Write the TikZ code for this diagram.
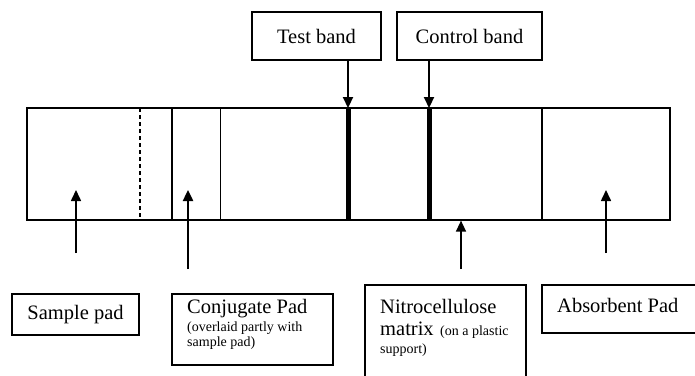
\documentclass[tikz,border=0pt]{standalone}
\usepackage{fontspec}
\setmainfont{Liberation Serif}
\usetikzlibrary{arrows.meta}
\begin{document}
\begin{tikzpicture}[x=1pt,y=-1pt,
  frame/.style={draw, line width=1.2pt, inner sep=0pt, font=\fontsize{20.5}{22}\selectfont},
  big/.style={font=\fontsize{20.5}{22}\selectfont, inner sep=0pt, anchor=base west},
  small/.style={font=\fontsize{14}{15}\selectfont, inner sep=0pt, anchor=base west},
  tip/.style={-{Triangle[length=11pt,width=10pt]}},
  band/.style={line width=5pt},
  divider/.style={line width=1.2pt}]
\useasboundingbox (0,0) rectangle (695,375);
% strip
\node[frame, minimum width=643pt, minimum height=112pt] (strip) at (348.5,164) {};
\coordinate (dtop) at (140,108); \coordinate (dbot) at (140,220);
\draw[line width=1.1pt, dash pattern=on 4pt off 3pt] (dtop) -- (dbot);
\coordinate (c1top) at (172,108); \coordinate (c1bot) at (172,220);
\draw[line width=1.4pt] (c1top) -- (c1bot);
\coordinate (c2top) at (220,108); \coordinate (c2bot) at (220,220);
\draw[line width=1pt] (c2top) -- (c2bot);
\coordinate (tbtop) at (348,108); \coordinate (tbbot) at (348,220);
\draw[band] (tbtop) -- (tbbot);
\coordinate (cbtop) at (429,108); \coordinate (cbbot) at (429,220);
\draw[band] (cbtop) -- (cbbot);
\coordinate (abtop) at (542,108); \coordinate (abbot) at (542,220);
\draw[divider] (abtop) -- (abbot);
% top boxes
\node[frame, minimum width=129pt, minimum height=48pt] (tb) at (316.5,36) {Test band};
\node[frame, minimum width=145pt, minimum height=48pt] (cb) at (469.5,36) {Control band};
\draw[tip, line width=2.2pt] (tb.south -| tbtop) -- (tbtop);
\draw[tip, line width=2.2pt] (cb.south -| cbtop) -- (cbtop);
% bottom boxes
\node[frame, minimum width=127pt, minimum height=41pt] (sp) at (75.5,314.5) {Sample pad};
\node[frame, minimum width=161pt, minimum height=71pt] (cp) at (252.5,329.5) {};
\node[frame, minimum width=161pt, minimum height=100pt] (nc) at (445.5,335) {};
\node[frame, minimum width=163pt, minimum height=48pt] (ap) at (623.5,309) {};
\node[big] (cpt) at (187,313) {Conjugate Pad};
\node[small] (cps1) at (187,331) {(overlaid partly with};
\node[small] (cps2) at (187,346) {sample pad)};
\node[big] (nct1) at (380,313) {Nitrocellulose};
\node[big] (nct2) at (380,335) {matrix};
\node[small] (ncs1) at (440,335) {(on a plastic};
\node[small] (ncs2) at (380,353) {support)};
\node[big] (apt) at (557,312) {Absorbent Pad};
% up arrows
\coordinate (sa0) at (76,253); \coordinate (sa1) at (76,190);
\draw[tip, line width=1.6pt] (sa0) -- (sa1);
\coordinate (ca0) at (188,269); \coordinate (ca1) at (188,190);
\draw[tip, line width=2.4pt] (ca0) -- (ca1);
\coordinate (na0) at (461,269); \coordinate (na1) at (461,220.6);
\draw[tip, line width=1.4pt] (na0) -- (na1);
\coordinate (aa0) at (606,253); \coordinate (aa1) at (606,190);
\draw[tip, line width=1.6pt] (aa0) -- (aa1);
\end{tikzpicture}
\end{document}
